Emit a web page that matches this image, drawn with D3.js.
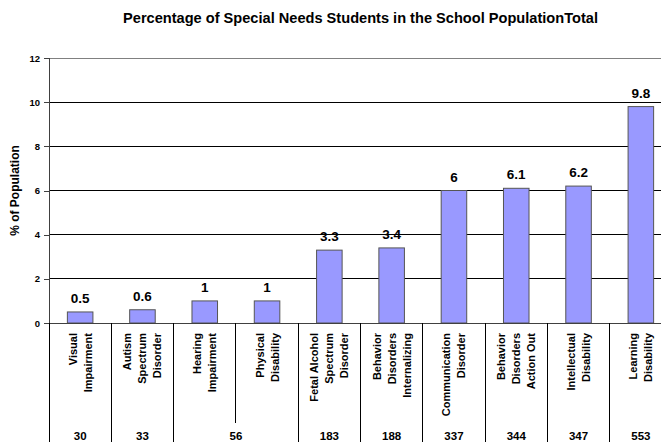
<!DOCTYPE html>
<html>
<head>
<meta charset="utf-8">
<script src="https://cdn.jsdelivr.net/npm/d3@7"></script>
<style>
  body { margin: 0; background: #fff; }
  svg { display: block; font-family: "Liberation Sans", Arial, sans-serif; font-weight: bold; }
</style>
</head>
<body>
<svg id="chart" width="661" height="442"></svg>
<script>
// chart data
const categories = [
    ["Visual", "Impairment"],
    ["Autism", "Spectrum", "Disorder"],
    ["Hearing", "Impairment"],
    ["Physical", "Disability"],
    ["Fetal Alcohol", "Spectrum", "Disorder"],
    ["Behavior", "Disorders", "Internalizing"],
    ["Communication", "Disorder"],
    ["Behavior", "Disorders", "Action Out"],
    ["Intellectual", "Disability"],
    ["Learning", "Disability"]
];
const percentages = [0.5, 0.6, 1, 1, 3.3, 3.4, 6, 6.1, 6.2, 9.8];
// student counts; the 56 covers hearing and physical together
const countLabels = ["30", "33", "56", "183", "188", "337", "344", "347", "553"];
const countSpans = [1, 1, 2, 1, 1, 1, 1, 1, 1];
const yTicks = [0, 2, 4, 6, 8, 10, 12];

const svg = d3.select("#chart");
const plotL = 49, plotR = 672, plotT = 58, plotB = 323;

const x = d3.scaleBand()
    .domain(d3.range(categories.length))
    .range([plotL, plotR])
    .paddingInner(0)
    .paddingOuter(0);
const y = d3.scaleLinear().domain([0, 12]).range([plotB, plotT]);

// title
svg.append("text")
    .attr("x", (plotL + plotR) / 2)
    .attr("y", 23)
    .attr("text-anchor", "middle")
    .attr("font-size", "14.6px")
    .text("Percentage of Special Needs Students in the School PopulationTotal");

// gridlines
svg.append("g")
    .selectAll("line")
    .data(yTicks.filter(d => d > 0))
    .enter().append("line")
    .attr("x1", plotL).attr("x2", plotR)
    .attr("y1", d => y(d)).attr("y2", d => y(d))
    .attr("stroke", d => d === 12 ? "#808080" : "#000")
    .attr("shape-rendering", "crispEdges");

// y axis
const yAxis = svg.append("g")
    .attr("transform", "translate(" + plotL + ",0)")
    .call(d3.axisLeft(y).tickValues(yTicks).tickSize(5).tickPadding(4));
yAxis.selectAll("path, line").attr("stroke", "#404040").attr("shape-rendering", "crispEdges");
yAxis.select(".domain").attr("d", "M0," + plotT + "V" + plotB);
yAxis.selectAll("text")
    .attr("font-family", "Liberation Sans, Arial, sans-serif")
    .attr("font-weight", "bold")
    .attr("font-size", "9.5px")
    .attr("fill", "#000");

svg.append("text")
    .attr("transform", "translate(19," + ((plotT + plotB) / 2) + ") rotate(-90)")
    .attr("text-anchor", "middle")
    .attr("font-size", "12px")
    .text("% of Population");

// bars
const barW = x.bandwidth() * 0.41;
svg.append("g")
    .selectAll("rect")
    .data(percentages)
    .enter().append("rect")
    .attr("x", (d, i) => x(i) + (x.bandwidth() - barW) / 2)
    .attr("y", d => y(d))
    .attr("width", barW)
    .attr("height", d => plotB - y(d))
    .attr("fill", "#9999ff")
    .attr("stroke", "#555")
    .attr("stroke-width", 1);

svg.append("g")
    .selectAll("text")
    .data(percentages)
    .enter().append("text")
    .attr("x", (d, i) => x(i) + x.bandwidth() / 2)
    .attr("y", d => y(d) - 9)
    .attr("text-anchor", "middle")
    .attr("font-size", "13.5px")
    .text(d => d);

// x axis baseline
svg.append("line")
    .attr("x1", plotL - 5).attr("x2", plotR)
    .attr("y1", plotB).attr("y2", plotB)
    .attr("stroke", "#404040")
    .attr("shape-rendering", "crispEdges");

// table separators below the axis
const bounds = d3.range(categories.length + 1).map(i => i < categories.length ? x(i) : plotR);
svg.append("g")
    .selectAll("line")
    .data(bounds)
    .enter().append("line")
    .attr("x1", d => d).attr("x2", d => d)
    .attr("y1", plotB)
    .attr("y2", (d, i) => i === 3 ? 423 : 460)
    .attr("stroke", "#000")
    .attr("shape-rendering", "crispEdges");

// category labels (rotated, right-aligned toward the axis)
const lineH = 15;
const catG = svg.append("g");
categories.forEach((lines, i) => {
    const cx = x(i) + x.bandwidth() / 2;
    lines.forEach((t, j) => {
        const off = (j - (lines.length - 1) / 2) * lineH;
        catG.append("text")
            .attr("transform", "translate(" + (cx + off + 4) + ",333) rotate(-90)")
            .attr("text-anchor", "end")
            .attr("font-size", "11px")
            .text(t);
    });
});

// counts row
let pos = 0;
const countG = svg.append("g");
countLabels.forEach((c, k) => {
    const x0 = x(pos);
    const x1 = pos + countSpans[k] < categories.length ? x(pos + countSpans[k]) : plotR;
    countG.append("text")
        .attr("x", (x0 + x1) / 2)
        .attr("y", 440)
        .attr("text-anchor", "middle")
        .attr("font-size", "11.5px")
        .text(c);
    pos += countSpans[k];
});
</script>
</body>
</html>
